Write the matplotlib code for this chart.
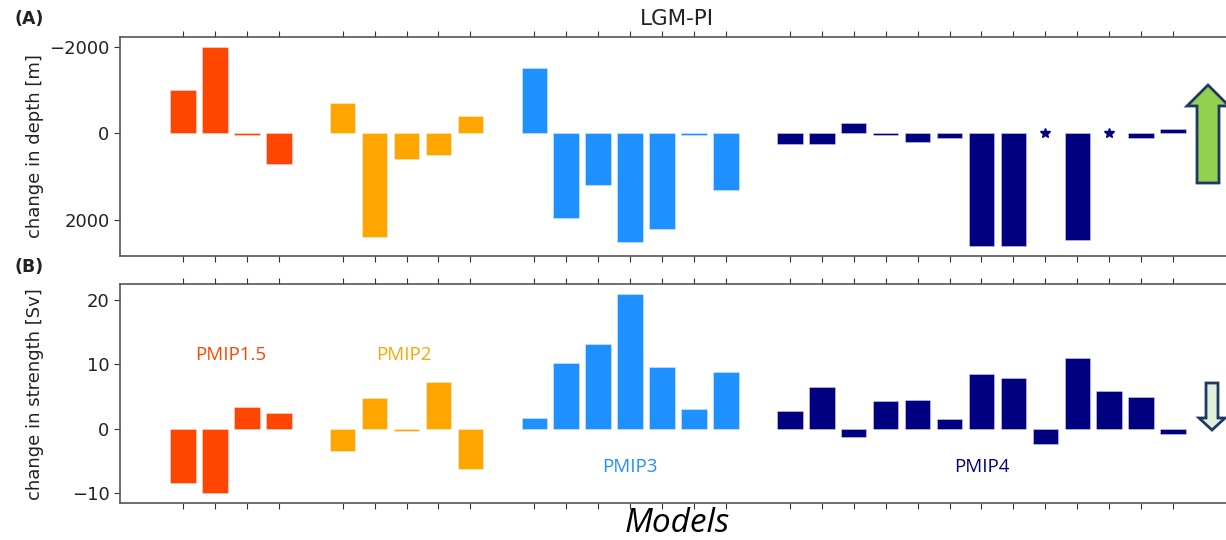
import matplotlib
matplotlib.use('Agg')
import matplotlib.pyplot as plt
import numpy as np
from matplotlib.patches import Polygon

# ---------------- data ----------------
groups = ['PMIP1.5', 'PMIP2', 'PMIP3', 'PMIP4']
group_colors = ['#FF4500', '#FFA500', '#1E90FF', '#000080']

# change in depth [m] (NaN = marked with a star)
depth_pmip15 = [-1000, -2000, 35, 700]
depth_pmip2 = [-700, 2400, 600, 500, -400]
depth_pmip3 = [-1500, 1950, 1200, 2500, 2200, 35, 1300]
depth_pmip4 = [250, 250, -230, 35, 200, 100, 2600, 2600, np.nan, 2450, np.nan, 110, -100]

# change in strength [Sv]
strength_pmip15 = [-8.4, -10.0, 3.4, 2.4]
strength_pmip2 = [-3.4, 4.7, -0.3, 7.3, -6.2]
strength_pmip3 = [1.6, 10.2, 13.1, 20.9, 9.5, 3.0, 8.7]
strength_pmip4 = [2.7, 6.4, -1.3, 4.3, 4.4, 1.5, 8.5, 7.9, -2.3, 11.0, 5.9, 4.9, -0.8]

depths = [depth_pmip15, depth_pmip2, depth_pmip3, depth_pmip4]
strengths = [strength_pmip15, strength_pmip2, strength_pmip3, strength_pmip4]

# ---------------- figure ----------------
W, H = 1226, 540
fig = plt.figure(figsize=(W / 100, H / 100), dpi=100)

ax_left = 120 / W
ax_w = 1133 / W
axA = fig.add_axes([ax_left, (H - 256) / H, ax_w, (256 - 36.7) / H])
axB = fig.add_axes([ax_left, (H - 503.3) / H, ax_w, (503.3 - 284) / H])

# positions with one empty slot between groups
positions = []
start = 0
for d in depths:
    positions.append(np.arange(start, start + len(d)))
    start += len(d) + 1
all_pos = np.concatenate(positions)

spine_col = '#555555'
for ax in (axA, axB):
    for s in ax.spines.values():
        s.set_color(spine_col)
        s.set_linewidth(1.2)
    ax.spines['right'].set_visible(False)
    ax.set_xlim(-1.97, 33.5)
    ax.set_xticks(all_pos)
    ax.set_xticklabels([])
    ax.tick_params(axis='x', which='both', top=True, bottom=True, direction='out',
                   length=4, color='#333333')
    ax.tick_params(axis='y', direction='out', length=4, color='#333333',
                   labelsize=13, labelcolor='#222222')

for pos, d, s, c in zip(positions, depths, strengths, group_colors):
    d = np.array(d, dtype=float)
    ok = ~np.isnan(d)
    axA.bar(pos[ok], d[ok], width=0.8, color=c, edgecolor=(1, 1, 1, 0.6), linewidth=0.4)
    if (~ok).any():
        axA.plot(pos[~ok], np.zeros((~ok).sum()), linestyle='none', marker='*',
                 color=c, markersize=7)
    axB.bar(pos, s, width=0.8, color=c, edgecolor=(1, 1, 1, 0.6), linewidth=0.4)

axA.set_ylim(2830, -2230)
axA.set_yticks([-2000, 0, 2000])
axB.set_ylim(-11.55, 22.4)
axB.set_yticks([-10, 0, 10, 20])

axA.set_ylabel('change in depth [m]', fontsize=13, color='#222222')
axB.set_ylabel('change in strength [Sv]', fontsize=13, color='#222222')
axA.yaxis.set_label_coords((44 - 120) / 1133, 0.5)
axB.yaxis.set_label_coords((44 - 120) / 1133, 0.5)

# group labels
label_xy = [(1.5, 11.4), (6.9, 11.4), (14.0, -6.0), (25.0, -6.0)]
for g, c, (x, y) in zip(groups, group_colors, label_xy):
    axB.text(x, y, g, color=c, fontsize=13.5, ha='center', va='center',
             family='Open Sans')

# titles / panel letters
fig.text(677 / W, 1 - 19 / H, 'LGM-PI', ha='center', va='center', fontsize=15.5,
         color='#222222')
fig.text(15 / W, 1 - 19 / H, '(A)', ha='left', va='center', fontsize=12.5,
         fontweight='bold', color='#222222')
fig.text(15 / W, 1 - 267 / H, '(B)', ha='left', va='center', fontsize=12.5,
         fontweight='bold', color='#222222')
fig.text(677 / W, 1 - 524 / H, 'Models', ha='center', va='center', fontsize=24,
         style='italic', family='Open Sans', color='black')

# arrows (pixel coordinates -> inches)
def px(x, y):
    return (x / 100, (H - y) / 100)

up = [px(1197, 183), px(1197, 106), px(1187, 106), px(1208, 85), px(1229, 106),
      px(1219, 106), px(1219, 183)]
fig.patches.append(Polygon(up, closed=True, facecolor='#92D050', edgecolor='#1F3864',
                           linewidth=2, transform=fig.dpi_scale_trans, figure=fig))
down = [px(1206, 383), px(1206, 418), px(1199, 418), px(1212, 430), px(1225, 418),
        px(1218, 418), px(1218, 383)]
fig.patches.append(Polygon(down, closed=True, facecolor='#E2F0D9', edgecolor='#1F3864',
                           linewidth=2, transform=fig.dpi_scale_trans, figure=fig))

fig.savefig('out.png', dpi=100)
